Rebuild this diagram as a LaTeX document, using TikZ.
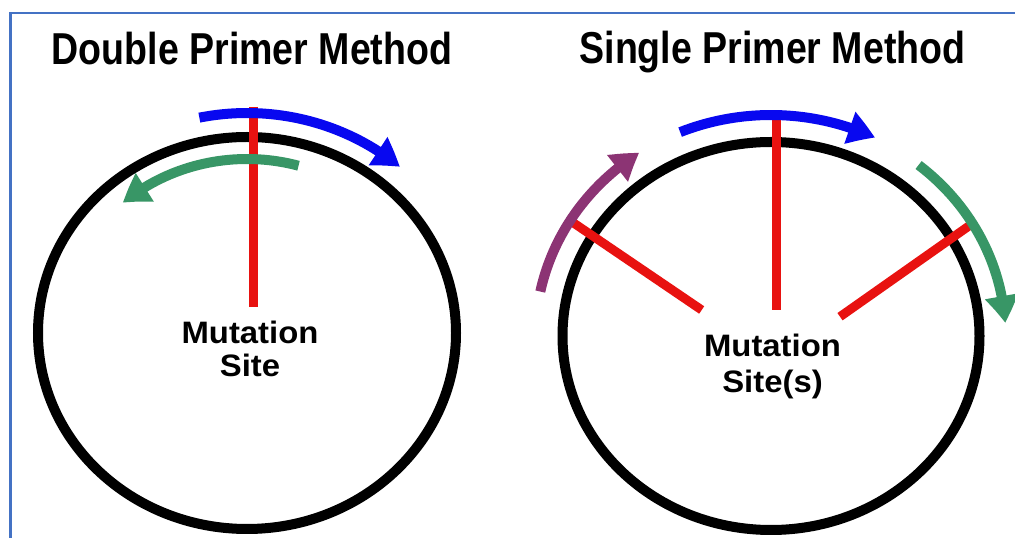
\documentclass[tikz,border=0pt]{standalone}
\usepackage{fontspec}
\setmainfont{Liberation Sans}
\usetikzlibrary{arrows.meta,calc,bending}
\definecolor{framec}{RGB}{68,114,196}
\definecolor{cutred}{RGB}{232,18,16}
\definecolor{pblue}{RGB}{8,8,240}
\definecolor{pgreen}{RGB}{56,150,102}
\definecolor{ppurple}{RGB}{140,52,116}
\newcommand\squeezetxt[2]{\scalebox{#1}[1]{#2}}
\tikzset{
  ring/.style={draw=black, line width=10},
  cutline/.style={draw=cutred, line width=9},
  primer/.style={line width=10, -{Triangle[length=27,width=32,bend]}},
  title/.style={anchor=base, inner sep=0, font=\bfseries\fontsize{44.7}{50}\selectfont},
  label/.style={anchor=base, inner sep=0, font=\bfseries\fontsize{31}{34}\selectfont},
}
\begin{document}
\begin{tikzpicture}[x=1pt,y=1pt]
\useasboundingbox (0,0) rectangle (1015,538);
% frame
\coordinate (fa) at (10.5,0);
\coordinate (fb) at (10.5,525);
\coordinate (fc) at (1015,525);
\draw[framec, line width=2.2] (fa) -- (fb) -- (fc);
% titles
\node[title] (t1) at (252,473.7) {\squeezetxt{0.84}{Double Primer Method}};
\node[title] (t2) at (772.5,474.5) {\squeezetxt{0.84}{Single Primer Method}};
% left plasmid
\coordinate (L) at (247,205);
\draw[ring] (L) ellipse[x radius=209, y radius=196];
\coordinate (lc1) at (253,431);
\coordinate (lc2) at (253,231);
\draw[cutline] (lc1) -- (lc2);
\draw[primer, pblue] (L) ++(101.8:233 and 220) arc[start angle=101.8, end angle=49, x radius=233, y radius=220];
\draw[primer, pgreen] (L) ++(74:187 and 174) arc[start angle=74, end angle=131.6, x radius=187, y radius=174];
\node[label] (m1) at (250,194.7) {\squeezetxt{1.06}{Mutation}};
\node[label] (s1) at (250,161) {\squeezetxt{1.06}{Site}};
% right plasmid
\coordinate (R) at (771,202);
\draw[ring] (R) ellipse[x radius=208.5, y radius=194];
\coordinate (rc1) at (776.7,426.3);
\coordinate (rc2) at (776.7,228);
\coordinate (rl1) at (566.7,319.7);
\coordinate (rl2) at (701.7,228);
\coordinate (rr1) at (975,316.3);
\coordinate (rr2) at (840,221.3);
\draw[cutline] (rc1) -- (rc2);
\draw[cutline] (rl1) -- (rl2);
\draw[cutline] (rr1) -- (rr2);
\draw[primer, pblue] (R) ++(112.7:235.5 and 221) arc[start angle=112.7, end angle=63.8, x radius=235.5, y radius=221];
\draw[primer, ppurple] (R) ++(168.4:235.5 and 221) arc[start angle=168.4, end angle=124, x radius=235.5, y radius=221];
\draw[primer, pgreen] (R) ++(51:234.5 and 220) arc[start angle=51, end angle=3.4, x radius=234.5, y radius=220];
\node[label] (m2) at (772.5,181.3) {\squeezetxt{1.06}{Mutation}};
\node[label] (s2) at (772.5,145) {\squeezetxt{1.06}{Site(s)}};
\end{tikzpicture}
\end{document}
